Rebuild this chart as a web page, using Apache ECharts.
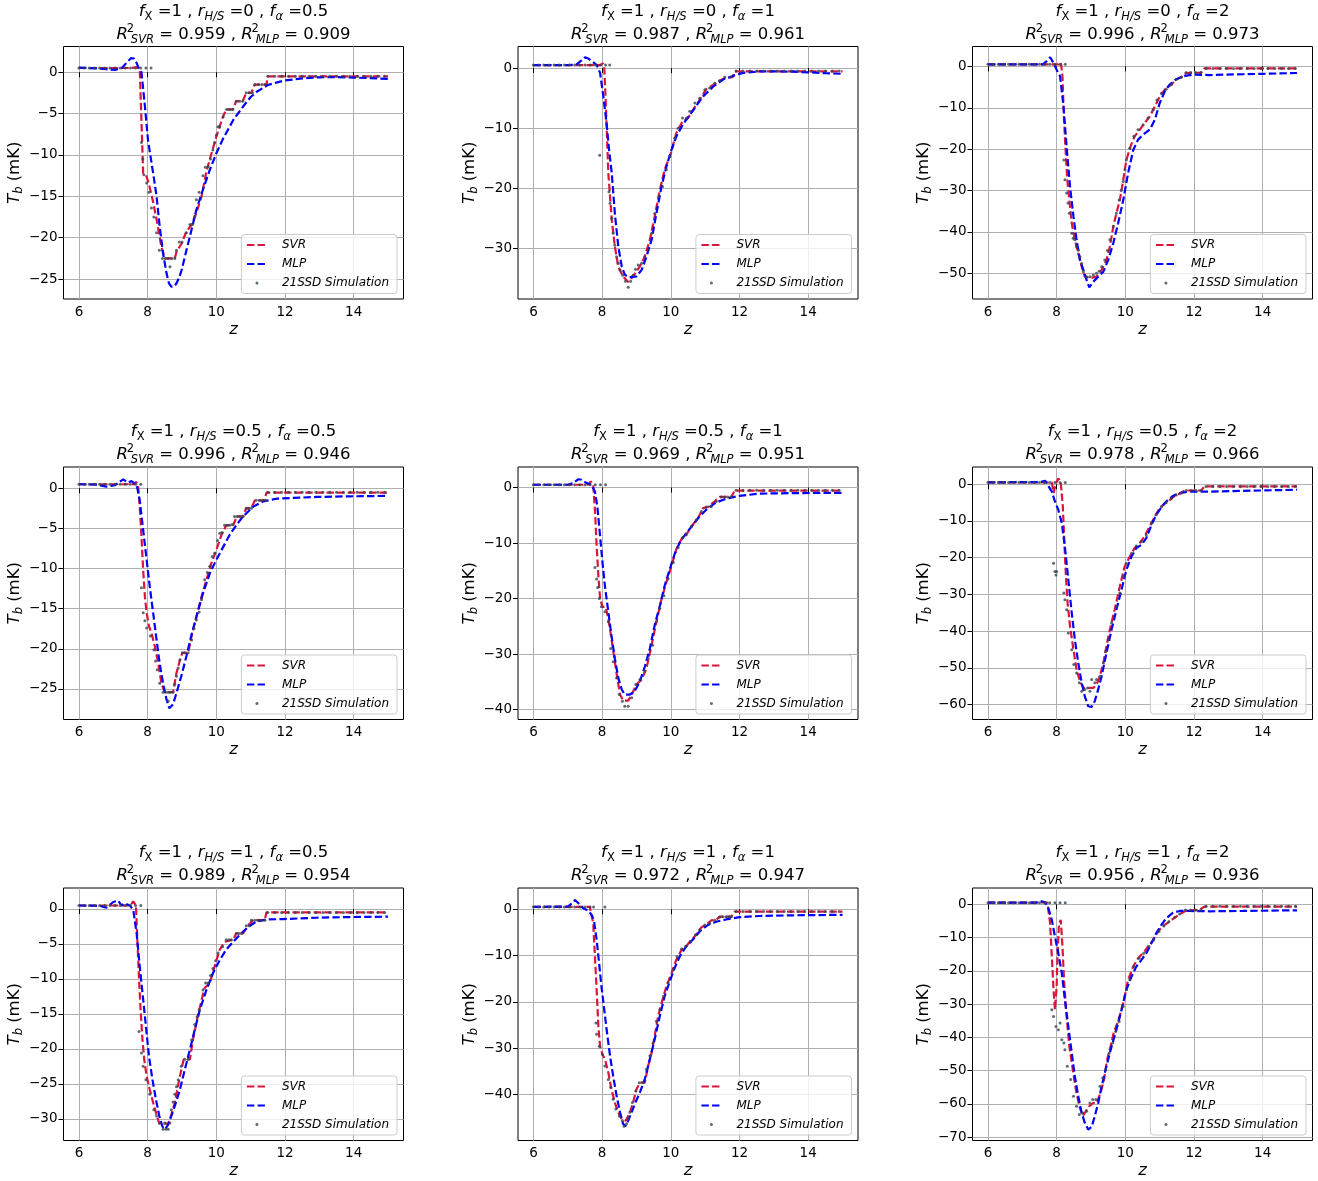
<!DOCTYPE html>
<html>
<head>
<meta charset="utf-8">
<script src="https://cdn.jsdelivr.net/npm/echarts@6/dist/echarts.min.js"></script>
<style>
  html, body { margin: 0; padding: 0; background: #ffffff; }
  #chart { width: 1318px; height: 1181px; }
</style>
</head>
<body>
<div id="chart"></div>
<script>
// ---- Panel parameters (row-major: r_H/S = 0, 0.5, 1; f_alpha = 0.5, 1, 2) ----
const fXVals = ['1', '1', '1', '1', '1', '1', '1', '1', '1'];
const rHSVals = ['0', '0', '0', '0.5', '0.5', '0.5', '1', '1', '1'];
const fAlphaVals = ['0.5', '1', '2', '0.5', '1', '2', '0.5', '1', '2'];
const r2SVR = ['0.959', '0.987', '0.996', '0.996', '0.969', '0.978', '0.989', '0.972', '0.956'];
const r2MLP = ['0.909', '0.961', '0.973', '0.946', '0.951', '0.966', '0.954', '0.947', '0.936'];

// ---- Axis ranges and tick values ----
const xRange = [5.55, 15.45];
const xTicks = [6, 8, 10, 12, 14];
const yRanges = [[-27.4, 3.1], [-38.45, 3.6], [-56.2, 4.8], [-28.8, 2.65], [-41.8, 3.7], [-64.1, 4.7], [-33.1, 3.0], [-50.0, 4.6], [-71.0, 4.9]];
const yTicks = [
  [-25, -20, -15, -10, -5, 0],
  [-30, -20, -10, 0],
  [-50, -40, -30, -20, -10, 0],
  [-25, -20, -15, -10, -5, 0],
  [-40, -30, -20, -10, 0],
  [-60, -50, -40, -30, -20, -10, 0],
  [-30, -25, -20, -15, -10, -5, 0],
  [-40, -30, -20, -10, 0],
  [-70, -60, -50, -40, -30, -20, -10, 0]
];

// ---- 21SSD simulation samples [z, Tb (mK)] ----
const sim1 = [[6,0.5],[6.15,0.5],[6.3,0.5],[6.45,0.5],[6.6,0.5],[6.75,0.5],[6.9,0.5],[7.05,0.5],[7.2,0.5],[7.35,0.5],[7.5,0.5],[7.65,0.5],[7.8,0.5],[7.95,0.5],[8.1,0.5],
  [7.82,-8.5],[7.86,-10.5],[7.89,-12.4],[7.97,-13.4],[8.04,-14.5],[8.11,-16.4],[8.18,-17.5],[8.26,-19.4],[8.34,-21.5],[8.43,-22.5],[8.52,-22.5],[8.6,-22.5],[8.65,-23.5],[8.7,-22.5],[8.79,-22.5],[8.84,-21.5],[8.92,-20.5],[9.0,-20.5],[9.13,-19.4],[9.23,-18.4],[9.3,-18.4],[9.37,-17.4],[9.42,-15.4],[9.5,-14.5],[9.61,-12.5],[9.68,-11.5],[9.76,-11.4],[9.83,-10.5],[9.9,-9.4],[9.95,-8.5],[10.0,-7.6],[10.05,-6.6],[10.1,-6.6],[10.2,-5.4],[10.3,-4.5],[10.39,-4.5],[10.48,-4.5],[10.58,-3.5],[10.68,-3.5],[10.77,-3.5],[10.87,-2.5],[10.96,-2.5],[11.05,-2.5],[11.12,-1.5],[11.22,-1.5],[11.32,-1.5],[11.42,-1.5],
  [11.5,-0.5],[11.7,-0.5],[11.9,-0.5],[12.1,-0.5],[12.3,-0.5],[12.5,-0.5],[12.7,-0.5],[12.9,-0.5],[13.1,-0.5],[13.3,-0.5],[13.5,-0.5],[13.7,-0.5],[13.9,-0.5],[14.1,-0.5],[14.3,-0.5],[14.5,-0.5],[14.7,-0.5],[14.9,-0.5]];
const sim2 = [[6,0.5],[6.15,0.5],[6.3,0.5],[6.45,0.5],[6.6,0.5],[6.75,0.5],[6.9,0.5],[7.05,0.5],[7.2,0.5],[7.35,0.5],[7.5,0.5],[7.65,0.5],[7.8,0.5],[7.95,0.5],[8.1,0.5],[8.22,0.5],[7.93,-14.5],
  [8.2,-20.6],[8.23,-22.5],[8.28,-25.0],[8.32,-27.5],[8.37,-29.5],[8.42,-31.4],[8.47,-32.5],[8.52,-33.6],[8.6,-34.5],[8.68,-35.5],[8.76,-36.5],[8.83,-35.5],[8.9,-34.5],[8.97,-33.5],[9.05,-32.8],[9.15,-32.5],[9.24,-31.4],[9.34,-30.3],[9.44,-27.5],[9.53,-24.2],[9.66,-21.4],[9.76,-19.7],[9.87,-16.9],[9.97,-14.7],[10.11,-11.7],[10.21,-10.0],[10.34,-8.3],[10.45,-8.3],[10.55,-7.2],[10.7,-5.8],[10.84,-5.0],[10.99,-3.6],[11.13,-3.3],[11.28,-2.5],[11.42,-2.1],[11.57,-1.5],[11.73,-1.5],
  [11.9,-0.5],[12.1,-0.5],[12.3,-0.5],[12.5,-0.5],[12.7,-0.5],[12.9,-0.5],[13.1,-0.5],[13.3,-0.5],[13.5,-0.5],[13.7,-0.5],[13.9,-0.5],[14.1,-0.5],[14.3,-0.5],[14.5,-0.5],[14.7,-0.5],[14.9,-0.5]];
const sim3 = [[6,0.5],[6.15,0.5],[6.3,0.5],[6.45,0.5],[6.6,0.5],[6.75,0.5],[6.9,0.5],[7.05,0.5],[7.2,0.5],[7.35,0.5],[7.5,0.5],[7.65,0.5],[7.8,0.5],[7.95,0.5],[8.1,0.5],[8.25,0.5],
  [8.21,-22.6],[8.24,-27.4],[8.29,-30.6],[8.33,-33.0],[8.37,-35.5],[8.44,-40.3],[8.48,-41.5],[8.53,-41.9],[8.58,-43.5],[8.63,-44.4],[8.68,-46.0],[8.73,-47.6],[8.78,-49.6],[8.87,-50.8],[8.97,-50.8],[9.07,-50.4],[9.16,-50.0],[9.24,-49.5],[9.31,-48.4],[9.4,-46.8],[9.48,-44.5],[9.55,-41.9],[9.65,-38.7],[9.74,-35.5],[9.82,-32.3],[9.88,-30.0],[9.94,-27.8],[9.99,-25.0],[10.03,-22.6],[10.13,-19.8],[10.25,-16.9],[10.37,-15.3],[10.52,-14.1],[10.66,-12.5],[10.81,-10.5],[10.92,-8.1],[11.05,-6.5],[11.19,-5.5],[11.34,-4.4],[11.48,-3.2],[11.63,-2.6],[11.77,-1.5],[11.9,-1.5],[12.05,-1.5],[12.2,-1.5],
  [12.35,-0.5],[12.55,-0.5],[12.75,-0.5],[12.95,-0.5],[13.15,-0.5],[13.35,-0.5],[13.55,-0.5],[13.75,-0.5],[13.95,-0.5],[14.15,-0.5],[14.35,-0.5],[14.55,-0.5],[14.75,-0.5],[14.95,-0.5]];
const sim4 = [[6,0.5],[6.15,0.5],[6.3,0.5],[6.45,0.5],[6.6,0.5],[6.75,0.5],[6.9,0.5],[7.05,0.5],[7.2,0.5],[7.35,0.5],[7.5,0.5],[7.65,0.5],[7.8,0.5],
  [7.82,-12.4],[7.87,-15.5],[7.92,-16.5],[7.97,-17.4],[8.08,-18.4],[8.18,-20.1],[8.23,-21.5],[8.28,-22.6],[8.35,-24.3],[8.45,-25.4],[8.53,-25.4],[8.6,-25.4],[8.6,-26.5],[8.67,-25.4],[8.74,-25.4],[8.79,-24.4],[8.84,-23.4],[8.89,-22.4],[8.94,-21.4],[9.01,-20.5],[9.08,-20.5],[9.18,-20.5],[9.28,-18.9],[9.35,-17.5],[9.42,-16.4],[9.5,-15.4],[9.57,-13.9],[9.66,-11.4],[9.74,-10.5],[9.81,-9.7],[9.88,-8.5],[9.95,-8.1],[10.03,-6.5],[10.1,-5.6],[10.17,-5.5],[10.24,-4.6],[10.32,-4.6],[10.39,-4.6],[10.46,-4.5],[10.53,-3.5],[10.6,-3.5],[10.68,-3.5],[10.78,-3.5],[10.87,-2.5],[10.95,-2.5],[11.02,-2.5],[11.16,-1.5],[11.26,-1.5],[11.36,-1.5],[11.44,-1.5],
  [11.5,-0.5],[11.7,-0.5],[11.9,-0.5],[12.1,-0.5],[12.3,-0.5],[12.5,-0.5],[12.7,-0.5],[12.9,-0.5],[13.1,-0.5],[13.3,-0.5],[13.5,-0.5],[13.7,-0.5],[13.9,-0.5],[14.1,-0.5],[14.3,-0.5],[14.5,-0.5],[14.7,-0.5],[14.9,-0.5]];
const sim5 = [[6,0.5],[6.15,0.5],[6.3,0.5],[6.45,0.5],[6.6,0.5],[6.75,0.5],[6.9,0.5],[7.05,0.5],[7.2,0.5],[7.35,0.5],[7.5,0.5],[7.65,0.5],[7.8,0.5],[7.95,0.5],[8.1,0.5],
  [7.79,-14.4],[7.84,-16.5],[7.87,-18.0],[7.92,-20.0],[7.98,-21.5],[8.08,-22.4],[8.18,-24.2],[8.25,-29.0],[8.32,-31.4],[8.42,-34.3],[8.5,-37.3],[8.59,-38.5],[8.66,-39.4],[8.76,-39.4],[8.86,-37.9],[8.98,-35.5],[9.1,-34.6],[9.24,-33.2],[9.34,-30.8],[9.47,-28.4],[9.58,-24.2],[9.68,-21.8],[9.8,-19.5],[9.92,-16.5],[10.07,-13.5],[10.21,-10.8],[10.34,-9.0],[10.45,-8.5],[10.6,-7.0],[10.74,-5.8],[10.89,-4.3],[11.03,-3.5],[11.18,-3.4],[11.32,-2.5],[11.47,-1.7],[11.57,-1.7],[11.66,-1.7],[11.76,-1.7],
  [11.9,-0.5],[12.1,-0.5],[12.3,-0.5],[12.5,-0.5],[12.7,-0.5],[12.9,-0.5],[13.1,-0.5],[13.3,-0.5],[13.5,-0.5],[13.7,-0.5],[13.9,-0.5],[14.1,-0.5],[14.3,-0.5],[14.5,-0.5],[14.7,-0.5],[14.9,-0.5]];
const sim6 = [[6,0.5],[6.15,0.5],[6.3,0.5],[6.45,0.5],[6.6,0.5],[6.75,0.5],[6.9,0.5],[7.05,0.5],[7.2,0.5],[7.35,0.5],[7.5,0.5],[7.65,0.5],[7.8,0.5],[7.95,0.5],[8.1,0.5],[8.25,0.5],
  [7.91,-21.5],[7.95,-23.8],[7.98,-24.7],[8.0,-23.8],
  [8.21,-29.6],[8.24,-31.5],[8.29,-34.2],[8.34,-40.5],[8.44,-45.1],[8.5,-49.1],[8.58,-51.4],[8.66,-54.1],[8.73,-56.4],[8.82,-55.9],[8.9,-55.5],[8.97,-56.4],[9.02,-53.2],[9.11,-54.1],[9.16,-53.2],[9.26,-52.3],[9.36,-48.7],[9.43,-45.5],[9.5,-42.3],[9.6,-37.8],[9.74,-33.3],[9.84,-29.6],[9.94,-25.1],[10.03,-21.5],[10.18,-18.8],[10.32,-16.8],[10.47,-15.6],[10.61,-13.8],[10.76,-10.6],[10.9,-8.3],[11.05,-6.1],[11.19,-5.0],[11.34,-3.8],[11.48,-2.9],[11.63,-2.4],[11.77,-1.7],[11.92,-1.7],[12.06,-1.7],[12.2,-1.7],
  [12.35,-0.6],[12.55,-0.6],[12.75,-0.6],[12.95,-0.6],[13.15,-0.6],[13.35,-0.6],[13.55,-0.6],[13.75,-0.6],[13.95,-0.6],[14.15,-0.6],[14.35,-0.6],[14.55,-0.6],[14.75,-0.6],[14.95,-0.6]];
const sim7 = [[6,0.5],[6.15,0.5],[6.3,0.5],[6.45,0.5],[6.6,0.5],[6.75,0.5],[6.9,0.5],[7.05,0.5],[7.2,0.5],[7.35,0.5],[7.5,0.5],[7.65,0.5],[7.8,0.5],
  [7.75,-17.5],[7.82,-20.6],[7.87,-22.5],[7.95,-24.4],[8.06,-26.5],[8.18,-28.7],[8.26,-29.6],[8.35,-30.6],[8.45,-31.5],[8.5,-30.6],[8.53,-31.5],[8.6,-31.5],[8.65,-30.6],[8.69,-28.7],[8.74,-27.6],[8.79,-26.5],[8.84,-25.4],[8.89,-24.4],[8.98,-22.5],[9.08,-21.5],[9.18,-21.5],[9.28,-18.7],[9.37,-16.5],[9.44,-15.4],[9.5,-14.4],[9.61,-11.6],[9.69,-10.6],[9.76,-10.6],[9.83,-9.5],[9.9,-8.5],[9.98,-7.4],[10.05,-6.3],[10.18,-5.4],[10.29,-4.4],[10.37,-4.4],[10.44,-4.4],[10.58,-3.5],[10.66,-3.5],[10.73,-3.5],[10.87,-2.4],[10.95,-2.4],[11.02,-1.6],[11.12,-1.6],[11.21,-1.6],[11.31,-1.6],[11.41,-1.6],
  [11.5,-0.5],[11.7,-0.5],[11.9,-0.5],[12.1,-0.5],[12.3,-0.5],[12.5,-0.5],[12.7,-0.5],[12.9,-0.5],[13.1,-0.5],[13.3,-0.5],[13.5,-0.5],[13.7,-0.5],[13.9,-0.5],[14.1,-0.5],[14.3,-0.5],[14.5,-0.5],[14.7,-0.5],[14.9,-0.5]];
const sim8 = [[6,0.5],[6.15,0.5],[6.3,0.5],[6.45,0.5],[6.6,0.5],[6.75,0.5],[6.9,0.5],[7.05,0.5],[7.2,0.5],[7.35,0.5],[7.5,0.5],[7.65,0.5],[7.75,0.5],[8.08,0.5],
  [7.82,-24.6],[7.84,-27.0],[7.92,-29.6],[8.01,-31.4],[8.08,-33.9],[8.18,-36.8],[8.25,-38.5],[8.32,-41.1],[8.4,-43.2],[8.5,-44.7],[8.59,-45.7],[8.64,-46.9],[8.71,-46.4],[8.76,-45.2],[8.81,-43.9],[8.88,-41.8],[8.98,-39.3],[9.08,-37.5],[9.19,-37.5],[9.29,-34.6],[9.39,-31.7],[9.48,-28.9],[9.58,-24.2],[9.68,-21.7],[9.79,-18.8],[9.92,-15.9],[10.07,-13.1],[10.18,-10.2],[10.31,-8.6],[10.43,-8.0],[10.57,-7.0],[10.72,-5.5],[10.84,-4.5],[10.99,-3.4],[11.13,-3.0],[11.28,-2.4],[11.42,-1.7],[11.52,-1.6],[11.61,-1.6],[11.7,-1.6],[11.76,-1.6],
  [11.9,-0.5],[12.1,-0.5],[12.3,-0.5],[12.5,-0.5],[12.7,-0.5],[12.9,-0.5],[13.1,-0.5],[13.3,-0.5],[13.5,-0.5],[13.7,-0.5],[13.9,-0.5],[14.1,-0.5],[14.3,-0.5],[14.5,-0.5],[14.7,-0.5],[14.9,-0.5]];
const sim9 = [[6,0.5],[6.15,0.5],[6.3,0.5],[6.45,0.5],[6.6,0.5],[6.75,0.5],[6.9,0.5],[7.05,0.5],[7.2,0.5],[7.35,0.5],[7.5,0.5],[7.65,0.5],[7.8,0.5],[7.95,0.5],[8.1,0.5],[8.25,0.5],
  [7.86,-31.7],[7.91,-33.7],[7.98,-36.7],[8.05,-37.7],[8.1,-35.7],[8.15,-40.7],[8.21,-41.7],[8.24,-43.7],[8.31,-48.7],[8.41,-52.7],[8.49,-57.7],[8.58,-60.7],[8.66,-63.2],[8.76,-62.7],[8.87,-62.2],[8.97,-59.7],[9.05,-58.7],[9.14,-58.7],[9.26,-54.7],[9.34,-52.2],[9.43,-49.7],[9.53,-44.7],[9.63,-41.7],[9.72,-38.2],[9.82,-35.2],[9.94,-30.7],[10.03,-25.7],[10.13,-22.7],[10.25,-18.7],[10.4,-16.2],[10.54,-14.7],[10.69,-12.7],[10.83,-10.7],[10.98,-8.2],[11.12,-6.5],[11.27,-5.2],[11.44,-3.9],[11.58,-2.9],[11.75,-1.7],[11.9,-1.7],[12.05,-1.7],[12.2,-1.7],
  [12.35,-0.6],[12.55,-0.6],[12.75,-0.6],[12.95,-0.6],[13.15,-0.6],[13.35,-0.6],[13.55,-0.6],[13.75,-0.6],[13.95,-0.6],[14.15,-0.6],[14.35,-0.6],[14.55,-0.6],[14.75,-0.6],[14.95,-0.6]];

// ---- SVR predictions [z, Tb (mK)] ----
const svr1 = [[6,0.5],[7.0,0.5],[7.5,0.5],[7.7,0.6],[7.77,0.4],[7.87,-12.2],[7.95,-12.4],[7.99,-12.2],[8.03,-13.4],[8.15,-15.5],[8.26,-17.8],[8.4,-21.1],[8.5,-22.5],[8.79,-22.5],[8.84,-21.7],[8.99,-20.7],[9.11,-19.4],[9.28,-18.4],[9.42,-17.0],[9.57,-15.0],[9.71,-12.0],[9.86,-9.8],[10.0,-7.8],[10.19,-5.4],[10.29,-4.5],[10.48,-4.5],[10.58,-3.5],[10.77,-3.5],[10.87,-2.5],[11.02,-2.5],[11.12,-1.5],[11.46,-1.5],[11.5,-0.5],[15,-0.5]];
const svr2 = [[6,0.5],[7.0,0.5],[7.95,0.5],[8.02,0.8],[8.06,0.3],[8.11,-6.4],[8.18,-17.5],[8.28,-25.3],[8.37,-29.7],[8.47,-33.1],[8.61,-34.7],[8.76,-35.6],[8.9,-34.7],[9.1,-33.0],[9.24,-31.4],[9.39,-28.6],[9.53,-24.7],[9.68,-20.3],[9.82,-16.9],[10.0,-14.2],[10.16,-10.8],[10.34,-8.9],[10.5,-8.3],[10.65,-6.9],[10.84,-5.3],[11.03,-3.5],[11.23,-2.8],[11.42,-2.1],[11.61,-1.55],[11.8,-1.5],[11.86,-0.55],[15,-0.55]];
const svr3 = [[6,0.5],[7.5,0.5],[8.05,0.5],[8.09,1.0],[8.13,0.5],[8.17,-2.4],[8.21,-12.0],[8.26,-20.2],[8.31,-27.4],[8.37,-32.3],[8.44,-37.9],[8.53,-41.9],[8.63,-45.2],[8.73,-48.4],[8.82,-50.8],[8.97,-51.2],[9.16,-50.8],[9.31,-49.2],[9.45,-46.8],[9.55,-43.5],[9.65,-38.7],[9.74,-35.5],[9.84,-32.3],[9.94,-27.4],[10.03,-22.6],[10.15,-19.4],[10.27,-16.9],[10.42,-15.3],[10.56,-13.7],[10.71,-12.1],[10.86,-9.7],[11.0,-7.3],[11.15,-5.6],[11.34,-4.4],[11.48,-3.2],[11.63,-2.6],[11.77,-1.6],[12.21,-1.5],[12.3,-0.5],[15,-0.5]];
const svr4 = [[6,0.5],[7.5,0.5],[7.62,0.5],[7.66,0.8],[7.72,0.5],[7.77,-2.3],[7.82,-6.0],[7.87,-10.2],[7.92,-13.5],[7.97,-15.5],[8.04,-17.2],[8.11,-18.0],[8.21,-19.7],[8.31,-21.8],[8.4,-24.3],[8.5,-25.4],[8.74,-25.4],[8.84,-23.0],[8.94,-21.4],[9.01,-20.5],[9.18,-20.5],[9.28,-18.4],[9.42,-16.0],[9.57,-13.5],[9.71,-11.4],[9.86,-9.3],[10.0,-7.7],[10.15,-5.8],[10.29,-4.6],[10.49,-4.6],[10.6,-3.5],[10.78,-3.5],[10.87,-2.5],[11.02,-2.5],[11.12,-1.5],[11.4,-1.5],[11.46,-0.54],[15,-0.54]];
const svr5 = [[6,0.5],[7.5,0.5],[7.62,0.6],[7.67,1.1],[7.74,0.4],[7.79,-4.0],[7.84,-10.5],[7.89,-15.9],[7.94,-20.0],[8.01,-21.5],[8.1,-21.5],[8.18,-23.6],[8.27,-27.2],[8.37,-31.4],[8.44,-34.3],[8.52,-37.3],[8.61,-38.4],[8.76,-38.4],[8.86,-37.3],[9.0,-35.5],[9.15,-34.6],[9.29,-32.6],[9.44,-28.4],[9.58,-24.2],[9.73,-20.1],[9.87,-17.1],[10.02,-14.1],[10.16,-11.1],[10.31,-9.3],[10.45,-8.5],[10.6,-7.0],[10.79,-5.5],[10.94,-3.7],[11.08,-3.5],[11.28,-2.5],[11.42,-1.7],[11.76,-1.7],[11.86,-0.55],[15,-0.55]];
const svr6 = [[6,0.5],[7.5,0.5],[7.86,0.5],[7.91,-2.4],[7.97,0.0],[8.05,1.6],[8.12,0.5],[8.18,-6.1],[8.23,-17.0],[8.27,-25.1],[8.32,-32.4],[8.39,-38.7],[8.49,-45.1],[8.58,-50.5],[8.68,-53.7],[8.78,-55.5],[9.07,-55.5],[9.16,-54.6],[9.26,-52.3],[9.36,-48.7],[9.45,-44.2],[9.55,-39.6],[9.69,-34.2],[9.84,-27.8],[9.98,-22.4],[10.13,-19.7],[10.27,-17.4],[10.42,-16.0],[10.56,-14.2],[10.71,-11.5],[10.86,-8.8],[11.0,-6.5],[11.15,-5.2],[11.29,-4.3],[11.44,-3.2],[11.58,-2.6],[11.73,-1.7],[12.21,-1.7],[12.3,-0.6],[15,-0.6]];
const svr7 = [[6,0.5],[7.5,0.5],[7.54,0.6],[7.58,1.1],[7.66,0.5],[7.7,-4.4],[7.75,-10.1],[7.8,-14.9],[7.85,-18.7],[7.9,-21.5],[7.97,-23.9],[8.06,-25.8],[8.16,-27.7],[8.26,-29.4],[8.34,-30.7],[8.6,-30.7],[8.69,-29.4],[8.79,-27.7],[8.89,-25.1],[8.98,-23.0],[9.05,-21.5],[9.23,-21.5],[9.32,-18.7],[9.44,-15.8],[9.57,-13.0],[9.66,-11.3],[9.81,-10.6],[9.95,-8.2],[10.1,-5.8],[10.24,-4.7],[10.49,-4.4],[10.58,-3.5],[10.78,-3.5],[10.92,-2.4],[11.07,-1.6],[11.41,-1.6],[11.46,-0.48],[15,-0.48]];
const svr8 = [[6,0.5],[7.5,0.5],[7.64,0.5],[7.69,0.9],[7.74,-3.0],[7.79,-10.2],[7.84,-17.4],[7.89,-25.3],[7.94,-29.6],[8.01,-31.4],[8.08,-32.4],[8.18,-35.3],[8.27,-38.9],[8.37,-41.8],[8.47,-43.9],[8.57,-45.4],[8.69,-45.7],[8.81,-43.9],[8.9,-41.8],[9.0,-38.9],[9.1,-37.5],[9.24,-37.5],[9.34,-33.9],[9.44,-31.0],[9.53,-27.4],[9.63,-23.1],[9.76,-19.5],[9.87,-16.7],[10.02,-13.8],[10.16,-10.9],[10.31,-8.8],[10.45,-8.0],[10.6,-6.6],[10.74,-5.5],[10.89,-3.9],[11.03,-3.4],[11.18,-2.4],[11.32,-2.3],[11.42,-1.6],[11.76,-1.6],[11.86,-0.5],[15,-0.5]];
const svr9 = [[6,0.5],[7.5,0.5],[7.62,0.6],[7.66,1.0],[7.73,0.5],[7.81,-5.7],[7.86,-15.7],[7.91,-25.7],[7.95,-31.7],[8.0,-24.7],[8.03,-13.7],[8.07,-5.7],[8.12,-4.7],[8.17,-12.7],[8.22,-23.7],[8.29,-33.7],[8.37,-42.7],[8.47,-49.7],[8.56,-55.7],[8.66,-60.7],[8.76,-63.7],[8.85,-62.2],[8.95,-60.7],[9.07,-59.7],[9.16,-59.7],[9.28,-56.7],[9.38,-52.7],[9.47,-46.7],[9.57,-42.7],[9.67,-38.2],[9.79,-35.2],[9.94,-29.7],[10.08,-22.7],[10.23,-18.7],[10.37,-16.2],[10.52,-14.7],[10.66,-12.7],[10.81,-10.7],[10.95,-8.2],[11.1,-6.5],[11.29,-5.2],[11.48,-3.7],[11.63,-2.7],[11.77,-1.9],[12.16,-1.7],[12.3,-0.7],[15,-0.7]];

// ---- MLP predictions [z, Tb (mK)] ----
const mlp1 = [[6,0.55],[6.5,0.45],[6.8,0.35],[7.05,0.28],[7.25,0.5],[7.4,1.2],[7.52,1.7],[7.6,1.65],[7.68,1.1],[7.75,0.4],[7.82,0.0],[7.92,-4.1],[8.01,-8.2],[8.16,-12.2],[8.26,-15.0],[8.35,-18.6],[8.45,-21.9],[8.55,-24.3],[8.62,-25.5],[8.69,-25.9],[8.77,-25.9],[8.84,-25.5],[8.92,-24.8],[8.99,-23.9],[9.13,-21.5],[9.28,-19.0],[9.42,-16.6],[9.61,-14.2],[9.81,-11.8],[10.0,-9.8],[10.2,-8.0],[10.49,-5.8],[10.78,-4.15],[11.0,-3.0],[11.2,-2.3],[11.5,-1.55],[11.8,-1.2],[12.0,-1.0],[12.5,-0.75],[13.0,-0.62],[13.5,-0.6],[14.0,-0.65],[14.5,-0.72],[15.0,-0.82]];
const mlp2 = [[6,0.5],[7.0,0.5],[7.25,0.6],[7.4,1.3],[7.5,1.8],[7.6,1.6],[7.69,1.2],[7.84,0.55],[7.94,-0.8],[8.03,-4.5],[8.13,-9.2],[8.2,-13.5],[8.28,-17.5],[8.37,-24.2],[8.47,-29.7],[8.57,-33.0],[8.66,-34.4],[8.76,-34.8],[8.86,-34.8],[9.0,-34.7],[9.15,-33.6],[9.29,-31.4],[9.44,-28.6],[9.58,-24.2],[9.73,-19.7],[9.87,-16.4],[10.02,-13.6],[10.16,-11.4],[10.36,-9.3],[10.55,-7.8],[10.74,-6.3],[10.94,-4.7],[11.23,-3.1],[11.52,-1.9],[11.81,-1.3],[12.1,-0.8],[12.58,-0.55],[13.07,-0.55],[13.55,-0.6],[14.04,-0.7],[14.5,-0.85],[15,-0.95]];
const mlp3 = [[6,0.5],[7.6,0.5],[7.7,1.2],[7.81,2.2],[7.91,0.8],[8.0,-0.8],[8.1,-2.4],[8.2,-9.7],[8.29,-19.4],[8.39,-29.0],[8.49,-36.3],[8.58,-41.9],[8.68,-46.8],[8.78,-49.2],[8.87,-51.6],[8.95,-53.4],[9.07,-52.0],[9.21,-50.8],[9.36,-49.6],[9.5,-46.8],[9.65,-42.7],[9.79,-37.9],[9.94,-32.3],[10.08,-25.8],[10.23,-20.2],[10.37,-17.7],[10.52,-16.5],[10.71,-15.3],[10.86,-12.9],[11.0,-8.9],[11.15,-6.0],[11.29,-4.4],[11.48,-3.1],[11.73,-2.3],[11.97,-2.0],[12.45,-2.1],[12.93,-2.0],[13.42,-1.9],[14.0,-1.8],[15,-1.6]];
const mlp4 = [[6,0.5],[6.5,0.45],[6.8,0.2],[7.05,0.4],[7.18,0.8],[7.29,1.1],[7.43,0.7],[7.53,0.9],[7.68,0.4],[7.77,-1.5],[7.87,-5.2],[7.97,-8.9],[8.06,-12.2],[8.16,-15.5],[8.26,-18.9],[8.35,-21.8],[8.45,-24.3],[8.55,-26.3],[8.63,-27.4],[8.74,-26.9],[8.84,-25.5],[8.98,-23.4],[9.13,-20.9],[9.28,-18.2],[9.42,-16.0],[9.61,-13.1],[9.81,-10.6],[10.0,-8.9],[10.2,-7.3],[10.39,-5.8],[10.58,-4.6],[10.78,-3.5],[11.07,-2.3],[11.36,-1.65],[11.75,-1.3],[12.23,-1.2],[12.91,-1.08],[13.88,-1.0],[15,-0.95]];
const mlp5 = [[6,0.5],[7.0,0.5],[7.16,0.8],[7.31,1.5],[7.4,1.4],[7.55,0.8],[7.69,0.5],[7.79,-0.7],[7.86,-3.4],[7.94,-8.75],[8.01,-13.5],[8.08,-17.7],[8.18,-22.4],[8.27,-26.6],[8.37,-30.8],[8.47,-34.3],[8.57,-36.4],[8.66,-37.3],[8.81,-37.3],[8.95,-36.7],[9.1,-34.9],[9.24,-32.3],[9.39,-29.0],[9.53,-24.8],[9.68,-21.3],[9.82,-17.7],[9.97,-14.7],[10.11,-12.0],[10.26,-9.9],[10.45,-8.2],[10.65,-6.7],[10.84,-5.2],[11.08,-3.7],[11.32,-2.7],[11.61,-2.0],[12.0,-1.5],[12.58,-1.1],[13.55,-1.0],[15,-0.95]];
const mlp6 = [[6,0.5],[7.5,0.6],[7.67,0.9],[7.72,0.6],[7.86,-2.0],[7.95,-4.7],[8.05,-7.0],[8.15,-10.6],[8.24,-17.0],[8.34,-26.0],[8.44,-35.1],[8.53,-42.3],[8.63,-48.7],[8.73,-54.1],[8.82,-57.8],[8.92,-60.5],[9.02,-60.7],[9.11,-59.1],[9.21,-55.9],[9.31,-52.3],[9.45,-46.0],[9.6,-39.6],[9.74,-34.2],[9.89,-28.7],[10.03,-23.3],[10.18,-19.7],[10.32,-17.4],[10.47,-16.5],[10.61,-14.7],[10.76,-11.1],[10.9,-8.3],[11.05,-6.3],[11.19,-4.7],[11.38,-3.2],[11.58,-2.4],[11.87,-2.0],[12.45,-2.0],[13.42,-1.8],[15,-1.5]];
const mlp7 = [[6,0.5],[6.6,0.45],[6.8,0.2],[7.0,1.0],[7.14,1.2],[7.24,0.5],[7.34,0.8],[7.48,0.5],[7.58,-0.1],[7.68,-3.5],[7.77,-8.2],[7.85,-12.0],[7.95,-16.8],[8.04,-21.1],[8.14,-24.4],[8.24,-27.2],[8.34,-29.6],[8.43,-31.1],[8.51,-31.5],[8.6,-30.8],[8.69,-29.6],[8.79,-28.2],[8.94,-25.8],[9.08,-23.0],[9.23,-20.1],[9.37,-17.3],[9.52,-14.4],[9.71,-11.6],[9.9,-9.2],[10.1,-7.3],[10.29,-5.8],[10.49,-4.7],[10.68,-3.7],[10.92,-2.6],[11.16,-1.8],[11.46,-1.5],[11.94,-1.45],[12.91,-1.25],[13.88,-1.15],[15,-1.1]];
const mlp8 = [[6,0.5],[7.0,0.6],[7.06,0.9],[7.21,2.0],[7.31,1.3],[7.45,0.2],[7.6,-0.3],[7.69,-1.2],[7.76,-2.3],[7.84,-6.6],[7.92,-12.3],[7.98,-16.7],[8.05,-21.0],[8.13,-26.0],[8.23,-31.7],[8.32,-36.0],[8.42,-40.3],[8.52,-43.9],[8.61,-46.4],[8.68,-46.9],[8.76,-45.7],[8.86,-43.9],[8.95,-42.1],[9.1,-39.6],[9.24,-36.8],[9.39,-32.4],[9.53,-28.1],[9.68,-23.1],[9.82,-18.8],[9.97,-15.6],[10.11,-12.7],[10.26,-10.2],[10.45,-8.0],[10.65,-6.5],[10.84,-4.8],[11.08,-3.4],[11.32,-2.7],[11.61,-2.2],[12.0,-1.7],[12.58,-1.45],[13.55,-1.3],[15,-1.2]];
const mlp9 = [[6,0.5],[7.4,0.5],[7.52,1.0],[7.66,0.6],[7.76,-1.2],[7.86,-4.7],[7.95,-9.7],[8.05,-14.7],[8.15,-20.7],[8.24,-28.7],[8.34,-36.7],[8.44,-44.7],[8.53,-51.7],[8.63,-57.7],[8.73,-62.7],[8.82,-65.7],[8.92,-67.7],[9.02,-66.9],[9.11,-63.7],[9.21,-59.7],[9.31,-54.7],[9.45,-48.7],[9.6,-42.7],[9.74,-37.7],[9.89,-31.7],[10.03,-25.7],[10.18,-21.7],[10.32,-18.7],[10.47,-16.7],[10.61,-14.7],[10.76,-11.7],[10.9,-8.7],[11.05,-6.2],[11.19,-4.2],[11.39,-2.5],[11.58,-2.0],[11.87,-2.0],[12.45,-2.1],[13.42,-2.0],[15,-1.8]];

const simSets = [sim1, sim2, sim3, sim4, sim5, sim6, sim7, sim8, sim9];
const svrSets = [svr1, svr2, svr3, svr4, svr5, svr6, svr7, svr8, svr9];
const mlpSets = [mlp1, mlp2, mlp3, mlp4, mlp5, mlp6, mlp7, mlp8, mlp9];

// ---- Layout ----
const W = 1318, H = 1181;
const colLeft = [63.5, 518, 972.5];
const rowTop = [46.5, 467, 888];
const plotW = 340, plotH = 252.5;
const FONT = 'DejaVu Sans';
const RED = '#dc143c', BLUE = '#0000ff', DOT = '#36454f';
const DASH = [7.4, 3.2];

const minusFmt = v => (v < 0 ? '\u2212' + Math.abs(v) : String(v));

const base = { fontFamily: FONT, color: '#000', fontWeight: 'normal' };
const titleRich = {
  t:  Object.assign({}, base, { fontSize: 16.5, lineHeight: 23 }),
  i:  Object.assign({}, base, { fontSize: 16.5, fontStyle: 'italic', lineHeight: 23 }),
  s:  Object.assign({}, base, { fontSize: 11.5, fontStyle: 'italic', lineHeight: 13.5, verticalAlign: 'bottom' }),
  sr: Object.assign({}, base, { fontSize: 11.5, lineHeight: 13.5, verticalAlign: 'bottom' }),
  s2: Object.assign({}, base, { fontSize: 11.5, fontStyle: 'italic', lineHeight: 12, verticalAlign: 'bottom' }),
  p:  Object.assign({}, base, { fontSize: 11.5, lineHeight: 14, verticalAlign: 'top', width: 1, padding: [0, 0, 0, 2] })
};
const yNameRich = {
  i: Object.assign({}, base, { fontSize: 16.5, fontStyle: 'italic', lineHeight: 20 }),
  s: Object.assign({}, base, { fontSize: 11.5, fontStyle: 'italic', lineHeight: 12, verticalAlign: 'bottom' }),
  t: Object.assign({}, base, { fontSize: 16.5, lineHeight: 20 })
};

const grids = [], xAxes = [], yAxes = [], series = [], titles = [], legends = [];

for (let k = 0; k < 9; k++) {
  const r = Math.floor(k / 3), c = k % 3;
  const L = colLeft[c], T = rowTop[r];

  grids.push({ left: L, top: T, width: plotW, height: plotH, show: true, borderColor: '#000', borderWidth: 1, backgroundColor: 'transparent' });

  xAxes.push({
    gridIndex: k, type: 'value', min: xRange[0], max: xRange[1], splitNumber: 5,
    axisLine: { show: false },
    axisTick: { show: true, length: 5, lineStyle: { color: '#000', width: 1 }, customValues: xTicks },
    axisLabel: { customValues: xTicks, margin: 6, fontSize: 13.5, fontFamily: FONT, color: '#000', formatter: v => String(v) },
    splitLine: { show: true, lineStyle: { color: '#b0b0b0', width: 1 } },
    name: 'z', nameLocation: 'middle', nameGap: 22,
    nameTextStyle: { fontSize: 16.5, fontFamily: FONT, fontStyle: 'italic', color: '#000' }
  });

  yAxes.push({
    gridIndex: k, type: 'value', min: yRanges[k][0], max: yRanges[k][1], splitNumber: yTicks[k].length - 1,
    axisLine: { show: false },
    axisTick: { show: true, length: 5, lineStyle: { color: '#000', width: 1 }, customValues: yTicks[k] },
    axisLabel: { customValues: yTicks[k], margin: 6, fontSize: 13.5, fontFamily: FONT, color: '#000', formatter: minusFmt },
    splitLine: { show: true, lineStyle: { color: '#b0b0b0', width: 1 } },
    name: '{i|T}{s|b}{t| (mK)}', nameLocation: 'middle', nameRotate: 90, nameGap: 38,
    nameTextStyle: { rich: yNameRich }
  });

  titles.push({
    left: L + plotW / 2, top: T - 46.5, textAlign: 'center', padding: 0,
    text: '{i|f}{sr|X}{t| =' + fXVals[k] + ' , }{i|r}{s|H/S}{t| =' + rHSVals[k] + ' , }{i|f}{s|\u03b1}{t| =' + fAlphaVals[k] + '}\n' +
          '{i|R}{p|2}{s2|SVR}{t| = ' + r2SVR[k] + ' , }{i|R}{p|2}{s2|MLP}{t| = ' + r2MLP[k] + '}',
    textStyle: { fontWeight: 'normal', fontFamily: FONT, color: '#000', rich: titleRich }
  });

  legends.push({
    orient: 'vertical', right: W - (L + plotW - 6.5), bottom: H - (T + plotH - 5.5),
    itemWidth: 20, itemHeight: 3, itemGap: 7, padding: [4.5, 8, 4.5, 4.5],
    backgroundColor: 'rgba(255,255,255,0.8)', borderColor: '#cccccc', borderWidth: 1, borderRadius: 3,
    selectedMode: false,
    textStyle: { fontSize: 12, fontFamily: FONT, fontStyle: 'italic', color: '#000', padding: [0, 0, 0, 10] },
    data: [
      { name: 'SVR', itemStyle: { opacity: 0 } },
      { name: 'MLP', itemStyle: { opacity: 0 } },
      { name: '21SSD Simulation' }
    ]
  });

  series.push({
    type: 'line', name: 'SVR', xAxisIndex: k, yAxisIndex: k, data: svrSets[k],
    symbol: 'none', silent: true, z: 3,
    lineStyle: { color: RED, width: 2.2, type: DASH }, itemStyle: { color: RED }
  });
  series.push({
    type: 'line', name: 'MLP', xAxisIndex: k, yAxisIndex: k, data: mlpSets[k],
    symbol: 'none', silent: true, z: 4,
    lineStyle: { color: BLUE, width: 2.2, type: DASH }, itemStyle: { color: BLUE }
  });
  series.push({
    type: 'scatter', name: '21SSD Simulation', xAxisIndex: k, yAxisIndex: k, data: simSets[k],
    symbol: 'circle', symbolSize: 3, silent: true, z: 5,
    itemStyle: { color: DOT }
  });
}

const chart = echarts.init(document.getElementById('chart'), null, { renderer: 'canvas' });
chart.setOption({
  animation: false,
  backgroundColor: '#ffffff',
  title: titles,
  legend: legends,
  grid: grids,
  xAxis: xAxes,
  yAxis: yAxes,
  series: series
});
</script>
</body>
</html>
